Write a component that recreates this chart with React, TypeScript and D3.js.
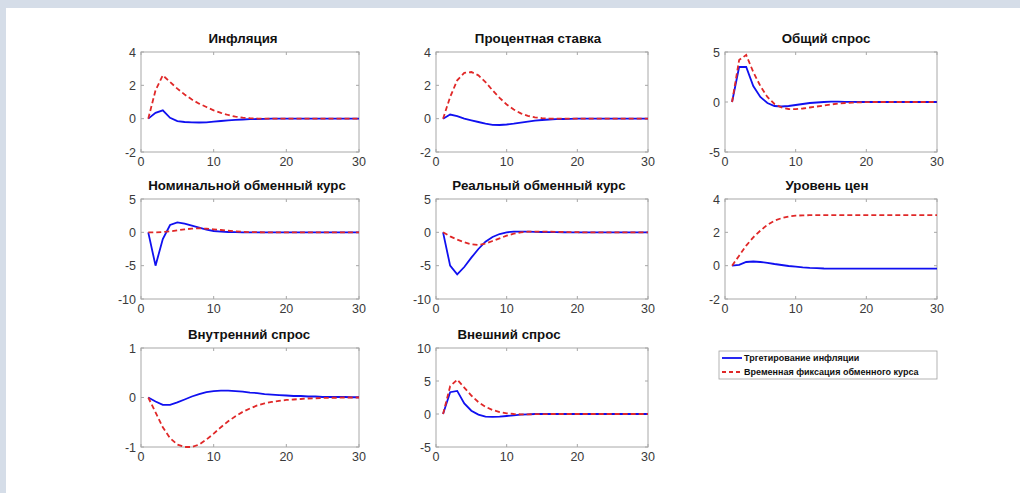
import React from "react";
import * as d3 from "d3";

const periods = d3.range(1, 31);

const titles = [
  "Инфляция",
  "Процентная ставка",
  "Общий спрос",
  "Номинальной обменный курс",
  "Реальный обменный курс",
  "Уровень цен",
  "Внутренний спрос",
  "Внешний спрос",
];

const yDomains: [number, number][] = [
  [-2, 4], [-2, 4], [-5, 5],
  [-10, 5], [-10, 5], [-2, 4],
  [-1, 1], [-5, 10],
];

const yTicks: number[][] = [
  [-2, 0, 2, 4], [-2, 0, 2, 4], [-5, 0, 5],
  [-10, -5, 0, 5], [-10, -5, 0, 5], [-2, 0, 2, 4],
  [-1, 0, 1], [-5, 0, 5, 10],
];

const xTicks = [0, 10, 20, 30];

const legendLabels = ["Тргетирование инфляции", "Временная фиксация обменного курса"];

// Inflation targeting (blue, solid)
const inflTarget: number[][] = [
  [0, 0.35, 0.5, 0.05, -0.15, -0.2, -0.22, -0.23, -0.22, -0.18, -0.14, -0.1, -0.07, -0.05, -0.03, -0.02, -0.01, 0, 0, 0, 0, 0, 0, 0, 0, 0, 0, 0, 0, 0],
  [0, 0.25, 0.15, 0.0, -0.1, -0.2, -0.3, -0.37, -0.38, -0.35, -0.3, -0.24, -0.18, -0.12, -0.08, -0.05, -0.03, -0.02, -0.01, 0, 0, 0, 0, 0, 0, 0, 0, 0, 0, 0],
  [0, 3.5, 3.5, 1.6, 0.5, -0.1, -0.4, -0.45, -0.4, -0.3, -0.2, -0.1, -0.05, 0, 0.03, 0.03, 0.02, 0.01, 0, 0, 0, 0, 0, 0, 0, 0, 0, 0, 0, 0],
  [0, -5, -1, 1.1, 1.5, 1.3, 1.0, 0.7, 0.4, 0.2, 0.1, 0.05, 0.02, 0, 0, 0, 0, 0, 0, 0, 0, 0, 0, 0, 0, 0, 0, 0, 0, 0],
  [0, -5, -6.3, -5.2, -3.8, -2.5, -1.4, -0.7, -0.25, 0, 0.1, 0.12, 0.1, 0.08, 0.05, 0.03, 0.02, 0.01, 0, 0, 0, 0, 0, 0, 0, 0, 0, 0, 0, 0],
  [0, 0.05, 0.22, 0.25, 0.22, 0.17, 0.1, 0.04, -0.02, -0.06, -0.1, -0.13, -0.15, -0.17, -0.18, -0.18, -0.18, -0.18, -0.18, -0.18, -0.18, -0.18, -0.18, -0.18, -0.18, -0.18, -0.18, -0.18, -0.18, -0.18],
  [0, -0.08, -0.15, -0.15, -0.1, -0.04, 0.02, 0.07, 0.11, 0.13, 0.14, 0.14, 0.13, 0.12, 0.1, 0.09, 0.07, 0.06, 0.05, 0.04, 0.03, 0.03, 0.02, 0.02, 0.01, 0.01, 0.01, 0.01, 0.005, 0.005],
  [0, 3.3, 3.5, 1.6, 0.5, -0.1, -0.4, -0.45, -0.4, -0.3, -0.2, -0.1, -0.05, 0, 0, 0, 0, 0, 0, 0, 0, 0, 0, 0, 0, 0, 0, 0, 0, 0],
];

// Temporary exchange-rate peg (red, dashed)
const pegSeries: number[][] = [
  [0, 1.7, 2.6, 2.2, 1.8, 1.45, 1.15, 0.9, 0.7, 0.5, 0.35, 0.22, 0.12, 0.06, 0.03, 0.01, 0, 0, 0, 0, 0, 0, 0, 0, 0, 0, 0, 0, 0, 0],
  [0, 1.3, 2.3, 2.75, 2.8, 2.6, 2.2, 1.7, 1.25, 0.85, 0.55, 0.32, 0.17, 0.08, 0.03, 0.01, 0, 0, 0, 0, 0, 0, 0, 0, 0, 0, 0, 0, 0, 0],
  [0, 4.2, 4.7, 3.0, 1.6, 0.5, -0.2, -0.55, -0.7, -0.72, -0.65, -0.55, -0.45, -0.35, -0.25, -0.15, -0.1, -0.06, -0.03, -0.02, 0, 0, 0, 0, 0, 0, 0, 0, 0, 0],
  [0, 0, 0.05, 0.15, 0.3, 0.45, 0.55, 0.6, 0.55, 0.45, 0.35, 0.25, 0.15, 0.08, 0.04, 0.02, 0, 0, 0, 0, 0, 0, 0, 0, 0, 0, 0, 0, 0, 0],
  [0, -0.6, -1.1, -1.5, -1.8, -1.9, -1.7, -1.3, -0.9, -0.5, -0.2, 0, 0.1, 0.12, 0.12, 0.1, 0.08, 0.05, 0.03, 0.02, 0, 0, 0, 0, 0, 0, 0, 0, 0, 0],
  [0, 0.6, 1.2, 1.7, 2.1, 2.45, 2.7, 2.85, 2.95, 3.0, 3.02, 3.03, 3.03, 3.03, 3.03, 3.03, 3.03, 3.03, 3.03, 3.03, 3.03, 3.03, 3.03, 3.03, 3.03, 3.03, 3.03, 3.03, 3.03, 3.03],
  [0, -0.3, -0.6, -0.82, -0.95, -1.0, -1.0, -0.95, -0.85, -0.73, -0.6, -0.48, -0.38, -0.29, -0.22, -0.16, -0.12, -0.09, -0.07, -0.05, -0.04, -0.03, -0.02, -0.015, -0.01, -0.005, -0.005, 0, 0, 0],
  [0, 4.2, 5.2, 4.0, 2.8, 1.8, 1.1, 0.6, 0.3, 0.1, 0, -0.05, -0.05, -0.03, -0.02, 0, 0, 0, 0, 0, 0, 0, 0, 0, 0, 0, 0, 0, 0, 0],
];

const cols = [
  { x0: 141, x1: 359 },
  { x0: 436, x1: 648 },
  { x0: 725, x1: 937 },
];
const rows = [
  { y0: 52, y1: 152 },
  { y0: 199, y1: 299 },
  { y0: 348, y1: 447 },
];
const titleShift = [-7, -4, -5, -3, -3, -4, -1, -33];

const FONT = "'Liberation Sans', Arial, Helvetica, sans-serif";
const BLUE = "#1010f0";
const RED = "#e02828";
const AXIS = "#a8a8a8";
const TEXT = "#3a3a3a";

function Panel({ i }: { i: number }) {
  const c = cols[i % 3];
  const r = rows[Math.floor(i / 3)];
  const x = d3.scaleLinear().domain([0, 30]).range([c.x0, c.x1]);
  const y = d3.scaleLinear().domain(yDomains[i]).range([r.y1, r.y0]);
  const line = d3
    .line<number>()
    .x((_, k) => x(periods[k]))
    .y((v) => y(v));
  const tl = 3;
  return (
    <g>
      <rect x={c.x0} y={r.y0} width={c.x1 - c.x0} height={r.y1 - r.y0} fill="#fff" stroke={AXIS} strokeWidth={1} />
      {xTicks.map((t) => (
        <g key={"x" + t}>
          <line x1={x(t)} x2={x(t)} y1={r.y1} y2={r.y1 - tl} stroke={AXIS} />
          <line x1={x(t)} x2={x(t)} y1={r.y0} y2={r.y0 + tl} stroke={AXIS} />
          <text x={x(t)} y={r.y1 + 14} textAnchor="middle" fontSize={12.5} fill={TEXT} fontFamily={FONT}>
            {t}
          </text>
        </g>
      ))}
      {yTicks[i].map((t) => (
        <g key={"y" + t}>
          <line x1={c.x0} x2={c.x0 + tl} y1={y(t)} y2={y(t)} stroke={AXIS} />
          <line x1={c.x1} x2={c.x1 - tl} y1={y(t)} y2={y(t)} stroke={AXIS} />
          <text x={c.x0 - 5} y={y(t) + 4.5} textAnchor="end" fontSize={12.5} fill={TEXT} fontFamily={FONT}>
            {t}
          </text>
        </g>
      ))}
      <path d={line(inflTarget[i]) || ""} fill="none" stroke={BLUE} strokeWidth={1.8} />
      <path d={line(pegSeries[i]) || ""} fill="none" stroke={RED} strokeWidth={1.8} strokeDasharray="5,3" />
      <text x={(c.x0 + c.x1) / 2 + titleShift[i]} y={r.y0 - 9} textAnchor="middle" fontSize={13.3} fontWeight="bold" fill="#111" fontFamily={FONT}>
        {titles[i]}
      </text>
    </g>
  );
}

export default function App() {
  const lx0 = 719, lx1 = 937, ly0 = 351, ly1 = 379;
  return (
    <div style={{ position: "fixed", left: 0, top: 0 }}>
      <svg width={1020} height={493} style={{ display: "block" }}>
        <rect x={0} y={0} width={1020} height={493} fill="#d5dde8" />
        <rect x={6} y={8} width={1014} height={485} fill="#ffffff" />
        {titles.map((_, i) => (
          <Panel key={i} i={i} />
        ))}
        <rect x={lx0} y={ly0} width={lx1 - lx0} height={ly1 - ly0} fill="#fff" stroke="#a0a0a0" strokeWidth={0.8} />
        <line x1={722} x2={742} y1={358} y2={358} stroke={BLUE} strokeWidth={1.8} />
        <text x={744} y={361} fontSize={9} fontWeight="bold" fill="#111" fontFamily={FONT}>
          {legendLabels[0]}
        </text>
        <line x1={722} x2={742} y1={372} y2={372} stroke={RED} strokeWidth={1.8} strokeDasharray="4,3" />
        <text x={744} y={375} fontSize={9} fontWeight="bold" fill="#111" fontFamily={FONT}>
          {legendLabels[1]}
        </text>
      </svg>
    </div>
  );
}
